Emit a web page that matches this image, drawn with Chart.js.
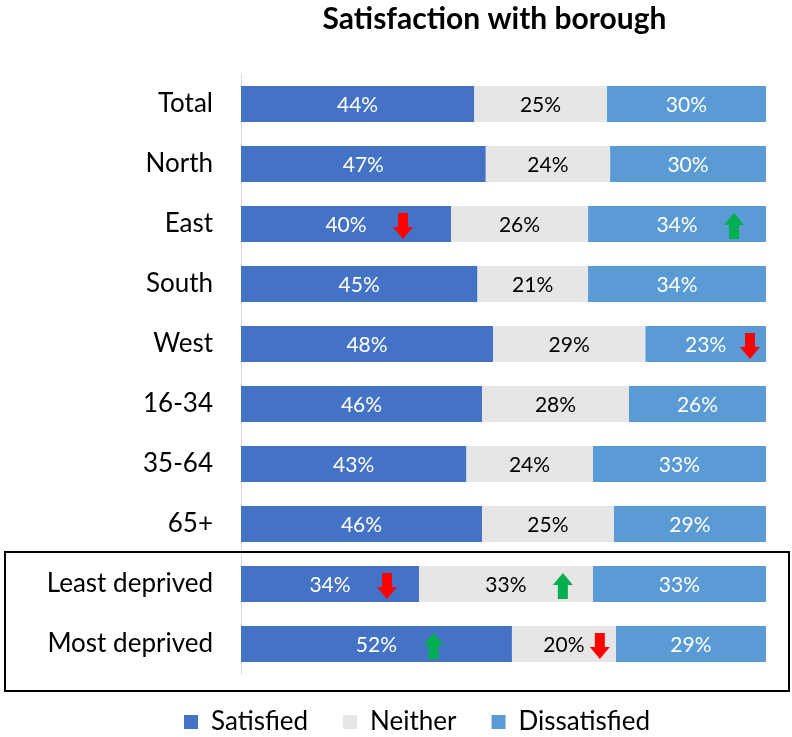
<!DOCTYPE html>
<html>
<head>
<meta charset="utf-8">
<script src="https://cdn.jsdelivr.net/npm/chart.js@4.4.1/dist/chart.umd.min.js"></script>
<style>
  html, body { margin: 0; padding: 0; background: #fff; }
  #wrap { width: 792px; height: 737px; position: relative; }
</style>
</head>
<body>
<div id="wrap"><canvas id="c" width="792" height="737"></canvas></div>
<script>
const categories = ['Total', 'North', 'East', 'South', 'West', '16-34', '35-64', '65+', 'Least deprived', 'Most deprived'];
const seriesNames = ['Satisfied', 'Neither', 'Dissatisfied'];
const satisfied    = [44.4, 46.6, 40.0, 45.0, 48.0, 45.9, 42.9, 45.9, 33.9, 51.6];
const neither      = [25.3, 23.7, 26.1, 21.1, 29.0, 28.0, 24.1, 25.1, 33.1, 19.8];
const dissatisfied = [30.3, 29.7, 33.9, 33.9, 23.0, 26.1, 33.0, 29.0, 33.0, 28.6];
// significance arrows: 1 = up (green), -1 = down (red), 0 = none
const satisfiedArrows    = [0, 0, -1, 0, 0, 0, 0, 0, -1, 1];
const neitherArrows      = [0, 0, 0, 0, 0, 0, 0, 0, 1, -1];
const dissatisfiedArrows = [0, 0, 1, 0, -1, 0, 0, 0, 0, 0];

const FONT = 'Lato, "Open Sans", sans-serif';
const colors = ['#4472C4', '#E7E6E6', '#5B9BD5'];
const labelColors = ['#FFFFFF', '#000000', '#FFFFFF'];
const arrowSets = [satisfiedArrows, neitherArrows, dissatisfiedArrows];

function drawArrow(ctx, cx, cy, dir) {
  const h = 26, headH = 12, headW = 20, shaftW = 10;
  ctx.save();
  ctx.fillStyle = dir > 0 ? '#00B050' : '#FF0000';
  ctx.translate(cx, cy);
  if (dir < 0) ctx.scale(1, -1);
  ctx.beginPath();
  ctx.moveTo(0, -h / 2);
  ctx.lineTo(headW / 2, -h / 2 + headH);
  ctx.lineTo(shaftW / 2, -h / 2 + headH);
  ctx.lineTo(shaftW / 2, h / 2);
  ctx.lineTo(-shaftW / 2, h / 2);
  ctx.lineTo(-shaftW / 2, -h / 2 + headH);
  ctx.lineTo(-headW / 2, -h / 2 + headH);
  ctx.closePath();
  ctx.fill();
  ctx.restore();
}

const overlayPlugin = {
  id: 'overlay',
  afterLayout(chart) {
    // nudge legend and title horizontally to match the original placement
    const lg = chart.legend;
    if (lg) { lg.left += 34; lg.right += 34; }
    const t = chart.titleBlock;
    if (t) { t.left -= 9; t.right -= 9; }
  },
  afterDatasetsDraw(chart) {
    const ctx = chart.ctx;
    ctx.save();
    ctx.font = '21px ' + FONT;
    ctx.textAlign = 'center';
    ctx.textBaseline = 'middle';
    chart.data.datasets.forEach((ds, di) => {
      const meta = chart.getDatasetMeta(di);
      meta.data.forEach((bar, i) => {
        const left = Math.min(bar.base, bar.x);
        const right = Math.max(bar.base, bar.x);
        const cx = (left + right) / 2;
        ctx.fillStyle = labelColors[di];
        ctx.fillText(Math.round(ds.data[i]) + '%', cx, bar.y + 1);
        const dir = arrowSets[di][i];
        if (dir) {
          const ax = Math.min(cx + 57, right - 16);
          drawArrow(ctx, ax, bar.y + 2, dir);
        }
      });
    });
    // box around deprivation rows
    const y = chart.scales.y;
    const top = y.getPixelForValue(7.5) - 2;
    const bottom = y.getPixelForValue(9.5) + 17;
    ctx.strokeStyle = '#000000';
    ctx.lineWidth = 2;
    ctx.strokeRect(5, top, chart.width - 8, bottom - top);
    ctx.restore();
  }
};

new Chart(document.getElementById('c'), {
  type: 'bar',
  data: {
    labels: categories,
    datasets: [
      { label: seriesNames[0], data: satisfied, backgroundColor: colors[0] },
      { label: seriesNames[1], data: neither, backgroundColor: colors[1] },
      { label: seriesNames[2], data: dissatisfied, backgroundColor: colors[2] }
    ]
  },
  options: {
    indexAxis: 'y',
    responsive: false,
    animation: false,
    layout: { padding: { left: 0, right: 26, top: 0, bottom: -8 } },
    datasets: { bar: { categoryPercentage: 1, barPercentage: 0.6, borderWidth: 0 } },
    scales: {
      x: { stacked: true, min: 0, max: 100, display: false },
      y: {
        stacked: true,
        grid: { display: false },
        border: { display: true, color: '#D9D9D9', width: 1 },
        ticks: { color: '#000000', font: { family: FONT, size: 26 }, padding: 20 },
        afterFit(scale) { scale.width = 241; }
      }
    },
    plugins: {
      title: {
        display: true,
        fullSize: false,
        text: 'Satisfaction with borough',
        color: '#000000',
        font: { family: FONT, size: 30, weight: 'bold' },
        padding: { top: 1, bottom: 37 }
      },
      legend: {
        position: 'bottom',
        labels: {
          color: '#000000',
          font: { family: FONT, size: 26 },
          boxWidth: 14,
          boxHeight: 14,
          padding: 35
        }
      },
      tooltip: { enabled: false }
    }
  },
  plugins: [overlayPlugin]
});
</script>
</body>
</html>
